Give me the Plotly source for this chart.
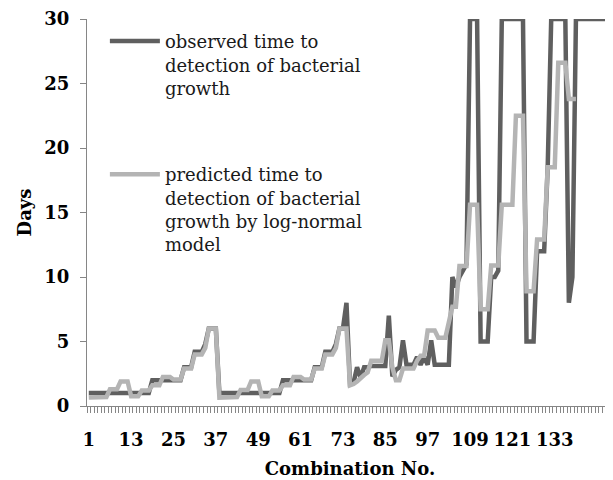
import plotly.graph_objects as go

combination_no = list(range(1, 150))

observed_days = [
    1, 1, 1, 1, 1, 1, 1, 1, 1, 1, 1, 1, 1, 1, 1, 1, 1, 1,
    2, 2, 2, 2, 2, 2, 2, 2, 2,
    3, 3, 3, 4.2, 4.2, 4.2, 4.8, 6, 6, 6,
    1, 1, 1, 1, 1, 1, 1, 1, 1, 1, 1, 1, 1, 1, 1, 1, 1, 1,
    2, 2, 2, 2, 2, 2, 2, 2, 2,
    3, 3, 3, 4.2, 4.2, 4.2, 4.8, 6, 6, 8,
    1.7, 1.8, 3.0, 2.2, 3.0, 3.0,
    3.1, 3.1, 3.1, 3.1, 3.1,
    7.0, 2.3, 2.8, 3.0, 5.1,
    3.2, 3.2, 3.2,
    3.8, 3.2, 3.8, 3.2, 5.1,
    3.2, 3.2, 3.2, 3.2, 3.2,
    10, 9.2, 10, 10.5, 11,
    30, 30, 30, 5, 5, 5,
    10, 10, 10.5,
    30, 30, 30, 30, 30, 30, 30,
    5, 5, 5, 12, 12, 12, 18.5,
    30, 30, 30, 30, 30,
    8, 10,
    30, 30, 30, 30, 30, 30, 30, 30, 30, 30, 30,
]

predicted_days = [
    0.65, 0.65, 0.65, 0.7, 0.7, 0.7, 1.3, 1.3, 1.3, 1.9, 1.9, 1.9,
    0.75, 0.75, 0.75, 1.2, 1.2, 1.2, 1.6, 1.6, 1.6, 2.25, 2.25, 2.25,
    2.05, 2.05, 2.05, 2.9, 2.9, 2.9, 4.0, 4.0, 4.0, 4.5, 6, 6, 6,
    0.65, 0.65, 0.65, 0.7, 0.7, 0.7, 1.25, 1.25, 1.25, 1.9, 1.9, 1.9,
    0.75, 0.75, 0.75, 1.2, 1.2, 1.2, 1.6, 1.6, 1.6, 2.25, 2.25, 2.25,
    2.05, 2.05, 2.05, 2.9, 2.9, 2.9, 4.0, 4.0, 4.0, 4.5, 6, 6, 6,
    1.6, 1.7, 1.9, 2.2, 2.4, 2.6,
    3.5, 3.5, 3.5, 3.5,
    5.1, 5.1, 3.0, 2.0, 2.0,
    2.9, 2.9, 2.9, 2.9,
    3.5, 3.9, 3.9,
    5.85, 5.85, 5.85, 5.3, 5.3, 5.3,
    6.5, 7.7, 7.7,
    10.85, 10.85, 10.85,
    15.6, 15.6, 15.6, 7.5, 7.5, 7.5,
    10.9, 10.9, 10.9,
    15.6, 15.6, 15.6, 15.6, 22.5, 22.5, 22.5,
    8.9, 8.9, 8.9, 12.9, 12.9, 12.9, 18.5, 18.5, 18.5,
    26.6, 26.6, 26.6, 23.8, 23.8, 23.8,
    None, None, None, None, None, None, None, None, None, None,
]

x_tick_values = [1, 13, 25, 37, 49, 61, 73, 85, 97, 109, 121, 133]
x_tick_labels = ["1", "13", "25", "37", "49", "61", "73", "85", "97", "109", "121", "133"]
y_tick_values = [0, 5, 10, 15, 20, 25, 30]

series_names = [
    "observed time to<br>detection of bacterial<br>growth",
    "predicted time to<br>detection of bacterial<br>growth by log-normal<br>model",
]

FONT = "DejaVu Serif"
AXIS_COLOR = "#868686"

fig = go.Figure()
fig.add_trace(go.Scatter(
    x=combination_no, y=observed_days, mode="lines", name=series_names[0],
    line=dict(color="#5f5f5f", width=4.5), legendgroup="a", cliponaxis=False,
))
fig.add_trace(go.Scatter(
    x=combination_no, y=predicted_days, mode="lines", name=series_names[1],
    line=dict(color="#b4b4b4", width=4.5), legendgroup="b", cliponaxis=False,
    connectgaps=False,
))

# the page body adds an 8px margin, so the figure is 8px smaller each way
fig.update_layout(
    width=605, height=472,
    margin=dict(l=79, r=0, t=8, b=74),
    paper_bgcolor="white", plot_bgcolor="white",
    font=dict(family=FONT, color="#000000"),
    legend=dict(
        x=0.034, y=0.99, xanchor="left", yanchor="top",
        valign="top", tracegroupgap=60, itemwidth=50,
        font=dict(family=FONT, size=18, color="#1a1a1a"),
        bgcolor="rgba(0,0,0,0)",
    ),
    xaxis=dict(
        range=[0.5, 149.5],
        tickmode="array", tickvals=x_tick_values, ticktext=x_tick_labels,
        ticks="outside", ticklen=6, tickcolor="rgba(0,0,0,0)",
        minor=dict(tick0=0.5, dtick=1, ticks="outside", ticklen=6,
                   tickcolor=AXIS_COLOR, tickwidth=1),
        showline=True, linecolor=AXIS_COLOR, linewidth=1,
        showgrid=False, zeroline=False,
        tickfont=dict(family=FONT, size=18, weight="bold", color="#000000"),
        ticklabelstandoff=11,
        title=dict(text="Combination No.", standoff=13,
                   font=dict(family=FONT, size=18, weight="bold", color="#000000")),
    ),
    yaxis=dict(
        range=[0, 30],
        tickmode="array", tickvals=y_tick_values,
        ticks="outside", ticklen=6, tickcolor=AXIS_COLOR,
        showline=True, linecolor=AXIS_COLOR, linewidth=1,
        showgrid=False, zeroline=False,
        tickfont=dict(family=FONT, size=18, weight="bold", color="#000000"),
        ticklabelstandoff=7, ticklabeloverflow="allow",
        title=dict(text="Days", standoff=8,
                   font=dict(family=FONT, size=18, weight="bold", color="#000000")),
    ),
)

fig.write_html("out.html")
